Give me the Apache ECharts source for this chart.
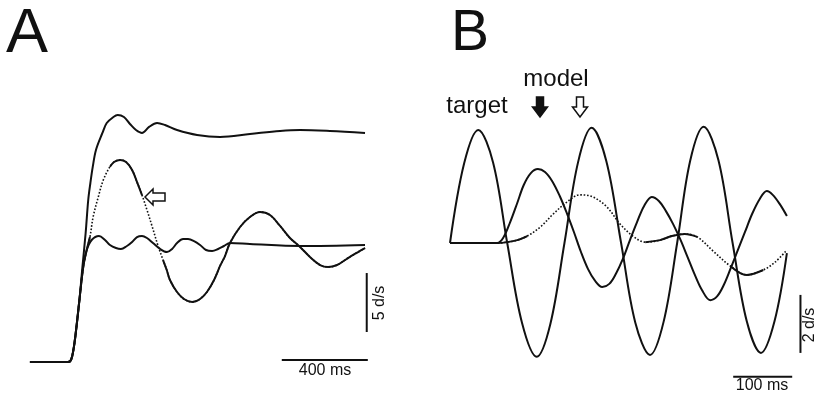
<!DOCTYPE html>
<html>
<head>
<meta charset="utf-8">
<script src="https://cdn.jsdelivr.net/npm/echarts@6/dist/echarts.min.js"></script>
<style>
	html, body { margin: 0; padding: 0; background: #fff; }
	#chart { width: 817px; height: 396px; }
</style>
</head>
<body>
<div id="chart"></div>
<script>
// A: step response, time (ms) from onset, eye velocity (d/s)
var aUpper = [[-177,0],[0,0],[14,0.17],[25,1.02],[36,2.46],[53,5.25],[67,8.05],[82,10.93],[94,13.73],[104,15.17],[115,16.53],[130,17.97],[160,19.41],[180,20.25],[211,20.76],[231,20.93],[260,20.76],[288,20.17],[316,19.66],[344,19.41],[377,19.92],[414,20.25],[451,20.08],[507,19.66],[600,19.24],[707,19.07],[846,19.32],[986,19.58],[1079,19.66],[1218,19.58],[1381,19.41]];
var aLower = [[-177,0],[0,0],[14,0.17],[25,1.02],[36,2.46],[53,5.25],[71,8.08],[87,9.49],[110,10.34],[144,10.68],[172,10.34],[195,9.92],[223,9.66],[246,9.58],[274,9.83],[298,10.17],[321,10.59],[344,10.68],[367,10.51],[395,10.08],[428,9.58],[460,9.32],[484,9.58],[507,10.08],[535,10.42],[558,10.42],[586,10.25],[614,9.92],[642,9.49],[670,9.41],[698,9.58],[725,9.83],[753,10.08],[846,10.0],[1079,9.83],[1381,9.92]];
var aModel = [[-177,0],[0,0],[14,0.17],[25,1.02],[36,2.46],[53,5.25],[71,8.08],[87,9.49],[102,10.59],[117,12.31],[141,14.0],[164,15.42],[195,16.55],[214,16.95],[242,17.12],[270,16.95],[298,16.27],[321,15.25],[344,14.15],[367,12.9],[391,11.5],[420,9.77],[442,8.64],[459,7.8],[474,6.95],[507,5.93],[539,5.34],[577,5.08],[614,5.34],[646,5.93],[679,6.95],[707,8.14],[730,8.98],[753,10.08],[800,11.44],[846,12.29],[893,12.71],[939,12.46],[986,11.53],[1032,10.51],[1079,9.75],[1125,8.9],[1172,8.22],[1209,8.05],[1251,8.22],[1302,8.81],[1349,9.32],[1381,9.66]];
var aModelSolid = [[-177,102],[195,344],[442,1381]];
var aScaleTime = [[994,0.17],[1394,0.17]];
var aScaleVel = [[1389,2.54],[1389,7.54]];

// B: sine target and two model outputs
var bTarget = [[0,0],[24,2.75],[48,3.9],[73,2.78],[97,0],[122,-2.75],[147,-3.92],[170,-2.8],[194,0],[217,2.78],[240,3.97],[265,2.82],[290,0],[314,-2.74],[339,-3.86],[362,-2.72],[385,0],[407,2.83],[430,4.01],[455,2.85],[479,0],[503,-2.7],[527,-3.79],[550,-2.7],[571,-0.35]];
var bModel1 = [[0,0],[80,0],[90,0.17],[102,0.72],[114,1.38],[125,2.0],[137,2.41],[149,2.55],[161,2.45],[173,2.14],[186,1.62],[198,1.03],[210,0.38],[222,-0.31],[234,-0.9],[246,-1.31],[258,-1.52],[270,-1.41],[281,-1.07],[293,-0.55],[305,0.1],[317,0.72],[329,1.28],[342,1.59],[354,1.45],[366,1.1],[378,0.66],[390,0.14],[402,-0.45],[415,-1.1],[427,-1.62],[441,-1.97],[453,-1.83],[464,-1.45],[476,-0.86],[488,-0.24],[500,0.38],[512,1.0],[525,1.52],[537,1.79],[547,1.66],[559,1.34],[571,0.93]];
var bModel2 = [[0,0],[80,0],[97,0.03],[114,0.1],[131,0.24],[153,0.55],[175,1.0],[198,1.41],[220,1.66],[242,1.59],[266,1.24],[288,0.66],[310,0.24],[331,0.03],[356,0.1],[376,0.24],[398,0.31],[419,0.21],[446,-0.28],[475,-0.79],[503,-1.1],[531,-0.93],[551,-0.66],[571,-0.24]];
var bModel2Solid = [[0,131],[331,419],[475,531]];
var bScaleTime = [[480,-4.61],[580,-4.61]];
var bScaleVel = [[594,-1.79],[594,-3.79]];

var ink = '#111';
var font = '"Liberation Sans", Arial, Helvetica, sans-serif';

function pick(data, from, to){
	return data.filter(function(p){ return p[0] >= from && p[0] <= to; });
}

function curve(grid, data, dash){
	return {
		type: 'line',
		xAxisIndex: grid,
		yAxisIndex: grid,
		data: data,
		smooth: 0.35,
		symbol: 'none',
		silent: true,
		clip: false,
		lineStyle: { color: ink, width: dash ? 1.6 : 2, type: dash ? [1.6, 1.8] : 'solid' }
	};
}

var series = [
	curve(0, aUpper),
	curve(0, aLower),
	curve(0, aModel, true),
	curve(0, aScaleTime),
	curve(0, aScaleVel),
	curve(1, bTarget),
	curve(1, bModel1),
	curve(1, bModel2, true),
	curve(1, bScaleTime),
	curve(1, bScaleVel)
];
aModelSolid.forEach(function(r){ series.push(curve(0, pick(aModel, r[0], r[1]))); });
bModel2Solid.forEach(function(r){ series.push(curve(1, pick(bModel2, r[0], r[1]))); });

function label(text, x, y, size, rot){
	return {
		type: 'text', x: x, y: y, rotation: rot || 0, silent: true,
		style: { text: text, fill: ink, font: size + 'px ' + font, align: 'center', verticalAlign: 'middle' }
	};
}

function arrow(points, filled){
	return {
		type: 'polygon', silent: true,
		shape: { points: points },
		style: { fill: filled ? ink : '#fff', stroke: ink, lineWidth: 1.5 }
	};
}

var chart = echarts.init(document.getElementById('chart'), null, { renderer: 'canvas' });
chart.setOption({
	backgroundColor: '#fff',
	animation: false,
	grid: [
		{ left: 29.3, top: 78.8, width: 339.8, height: 306.8 },
		{ left: 450, top: 112.5, width: 354, height: 275.5 }
	],
	xAxis: [
		{ gridIndex: 0, type: 'value', min: -180, max: 1400, show: false },
		{ gridIndex: 1, type: 'value', min: 0, max: 600, show: false }
	],
	yAxis: [
		{ gridIndex: 0, type: 'value', min: -2, max: 24, show: false },
		{ gridIndex: 1, type: 'value', min: -5, max: 4.5, show: false }
	],
	series: series,
	graphic: [
		label('A', 27, 35, 63),
		label('B', 470, 34, 57),
		label('target', 477, 106, 24),
		label('model', 556, 79, 24),
		label('400 ms', 325, 371, 16),
		label('5 d/s', 380, 303, 16, Math.PI / 2),
		label('100 ms', 762, 386, 16),
		label('2 d/s', 810, 325, 16, Math.PI / 2),
		arrow([[145,197],[153,189],[153,193],[165,193],[165,201],[153,201],[153,205]], false),
		arrow([[536.5,97],[543.5,97],[543.5,107],[547.5,107],[540,117],[532.5,107],[536.5,107]], true),
		arrow([[576.5,97],[583.5,97],[583.5,107],[587.5,107],[580,117],[572.5,107],[576.5,107]], false)
	]
});
</script>
</body>
</html>
